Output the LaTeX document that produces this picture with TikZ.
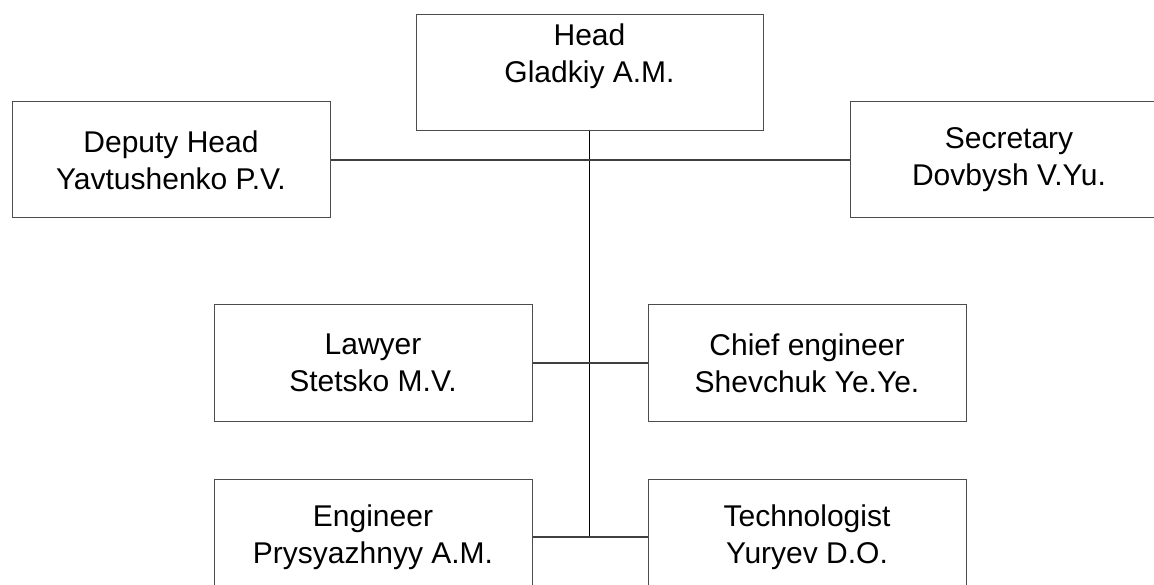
\documentclass[tikz,border=0pt]{standalone}
\usepackage{fontspec}
\setmainfont{Liberation Sans}
\begin{document}
\begin{tikzpicture}[x=1pt,y=-1pt,
  box/.style={draw=black!70,line width=1pt,inner sep=0pt,minimum width=318pt,minimum height=116pt,
    align=center,font=\fontsize{30}{37}\selectfont,text=black},
  conn/.style={draw=black!75,line width=1.1pt}]
\path[use as bounding box] (0,0) rectangle (1154,585);
\clip (0,0) rectangle (1154,585);
\node[box,minimum width=347pt,text height=59pt,text depth=39pt] (head) at (589.5,73) {Head\\Gladkiy A.M.};
\node[box] (deputy) at (171,160) {Deputy Head\\Yavtushenko P.V.};
\node[box] (secretary) at (1009,160) {Secretary\\Dovbysh V.Yu.};
\node[box] (lawyer) at (373,363) {Lawyer\\Stetsko M.V.};
\node[box] (chief) at (807,363) {Chief engineer\\Shevchuk Ye.Ye.};
\node[box] (engineer) at (373,537) {Engineer\\Prysyazhnyy A.M.};
\node[box] (techno) at (807,537) {Technologist\\Yuryev D.O.};
\coordinate (bottom) at (head.south |- engineer.east);
\draw[conn,draw=black,line width=1.4pt] (head.south) -- (bottom);
\draw[conn] (deputy.east) -- (secretary.west);
\draw[conn] (lawyer.east) -- (chief.west);
\draw[conn] (engineer.east) -- (techno.west);
\end{tikzpicture}
\end{document}
